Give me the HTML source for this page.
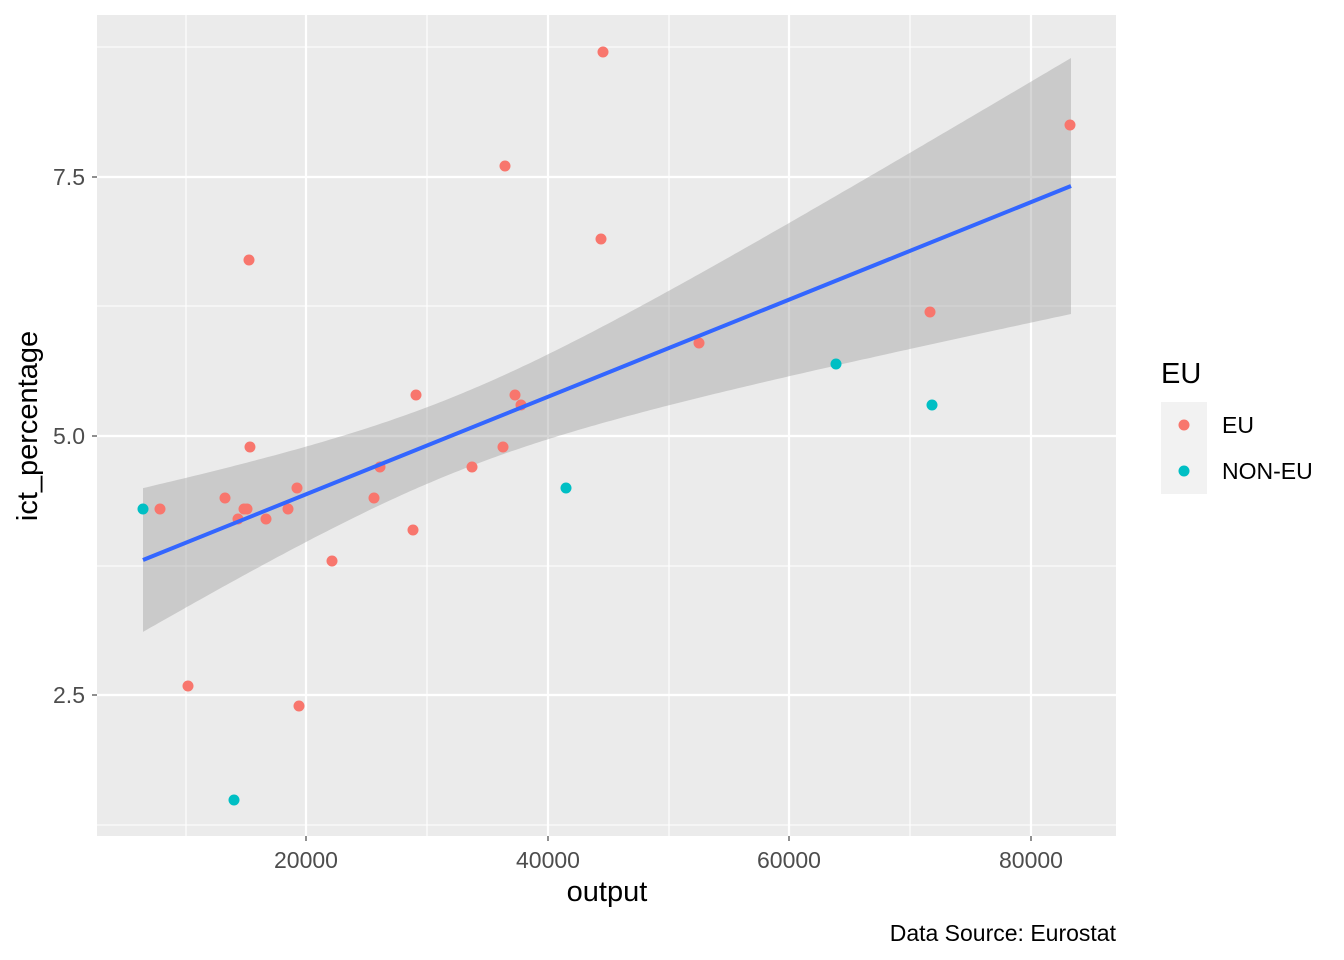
<!DOCTYPE html>
<html><head><meta charset="utf-8"><style>
html,body{margin:0;padding:0;background:#fff;}
svg{display:block;font-family:"Liberation Sans",Arial,sans-serif;}
</style></head><body>
<svg id="s" width="1344" height="960" viewBox="0 0 1344 960" xmlns="http://www.w3.org/2000/svg">
<rect x="97" y="15" width="1019" height="821" fill="#EBEBEB"/>
<g stroke="#fff" stroke-width="1.1">
<line x1="186" y1="15" x2="186" y2="836"/><line x1="427" y1="15" x2="427" y2="836"/>
<line x1="669" y1="15" x2="669" y2="836"/><line x1="910" y1="15" x2="910" y2="836"/>
<line x1="97" y1="47" x2="1116" y2="47"/><line x1="97" y1="306" x2="1116" y2="306"/>
<line x1="97" y1="566" x2="1116" y2="566"/><line x1="97" y1="825" x2="1116" y2="825"/>
</g>
<g stroke="#fff" stroke-width="2.2">
<line x1="306" y1="15" x2="306" y2="836"/><line x1="548" y1="15" x2="548" y2="836"/>
<line x1="789" y1="15" x2="789" y2="836"/><line x1="1031" y1="15" x2="1031" y2="836"/>
<line x1="97" y1="177" x2="1116" y2="177"/><line x1="97" y1="436" x2="1116" y2="436"/>
<line x1="97" y1="695" x2="1116" y2="695"/>
</g>
<polygon id="rib" fill="#999999" fill-opacity="0.4"/>
<g id="pts"></g>
<line x1="143" y1="560" x2="1071" y2="186" stroke="#3366FF" stroke-width="4"/>
<g stroke="#333" stroke-width="1.1">
<line x1="92" y1="177" x2="97" y2="177"/><line x1="92" y1="436" x2="97" y2="436"/><line x1="92" y1="695" x2="97" y2="695"/>
<line x1="306" y1="836" x2="306" y2="841"/><line x1="548" y1="836" x2="548" y2="841"/><line x1="789" y1="836" x2="789" y2="841"/><line x1="1031" y1="836" x2="1031" y2="841"/>
</g>
<g fill="#4D4D4D" font-size="23">
<text x="85" y="185" text-anchor="end">7.5</text>
<text x="85" y="444" text-anchor="end">5.0</text>
<text x="85" y="703" text-anchor="end">2.5</text>
<text x="306" y="868" text-anchor="middle">20000</text>
<text x="548" y="868" text-anchor="middle">40000</text>
<text x="789" y="868" text-anchor="middle">60000</text>
<text x="1031" y="868" text-anchor="middle">80000</text>
</g>
<text x="607" y="901" text-anchor="middle" font-size="29" fill="#000">output</text>
<text transform="translate(37,426) rotate(-90)" text-anchor="middle" font-size="29" fill="#000">ict_percentage</text>
<text x="1161" y="383" font-size="29" fill="#000">EU</text>
<rect x="1161" y="402" width="46" height="92" fill="#F2F2F2"/>
<circle cx="1184" cy="425" r="5.5" fill="#F8766D"/>
<circle cx="1184" cy="471" r="5.5" fill="#00BFC4"/>
<text x="1222" y="433" font-size="23" fill="#000">EU</text>
<text x="1222" y="479" font-size="23" fill="#000">NON-EU</text>
<text x="1116" y="941" text-anchor="end" font-size="23" fill="#000">Data Source: Eurostat</text>
</svg>
<script>
var up=[],lo=[];
for(var x=143;x<=1071;x+=4){var xx=Math.min(x,1071);var c=560+(xx-143)*(186-560)/(1071-143);var w=Math.sqrt(1444+0.039*(xx-452)*(xx-452));up.push(xx+","+(c-w).toFixed(1));lo.unshift(xx+","+(c+w).toFixed(1));}
up.push("1071,57");lo.unshift("1071,314");
document.getElementById("rib").setAttribute("points",up.concat(lo).join(" "));
var eu=[[160,509],[188,686],[225,498],[238,519],[244,509],[247,509],[249,260],[250,447],[266,519],[288,509],[297,488],[299,706],[332,561],[374,498],[380,467],[413,530],[416,395],[472,467],[503,447],[505,166],[515,395],[521,405],[601,239],[603,52],[699,343],[930,312],[1070,125]];
var ne=[[143,509],[234,800],[566,488],[836,364],[932,405]];
var g=document.getElementById("pts"),h="";
eu.forEach(function(p){h+='<circle cx="'+p[0]+'" cy="'+p[1]+'" r="5.5" fill="#F8766D"/>';});
ne.forEach(function(p){h+='<circle cx="'+p[0]+'" cy="'+p[1]+'" r="5.5" fill="#00BFC4"/>';});
g.innerHTML=h;
</script>
</body></html>
